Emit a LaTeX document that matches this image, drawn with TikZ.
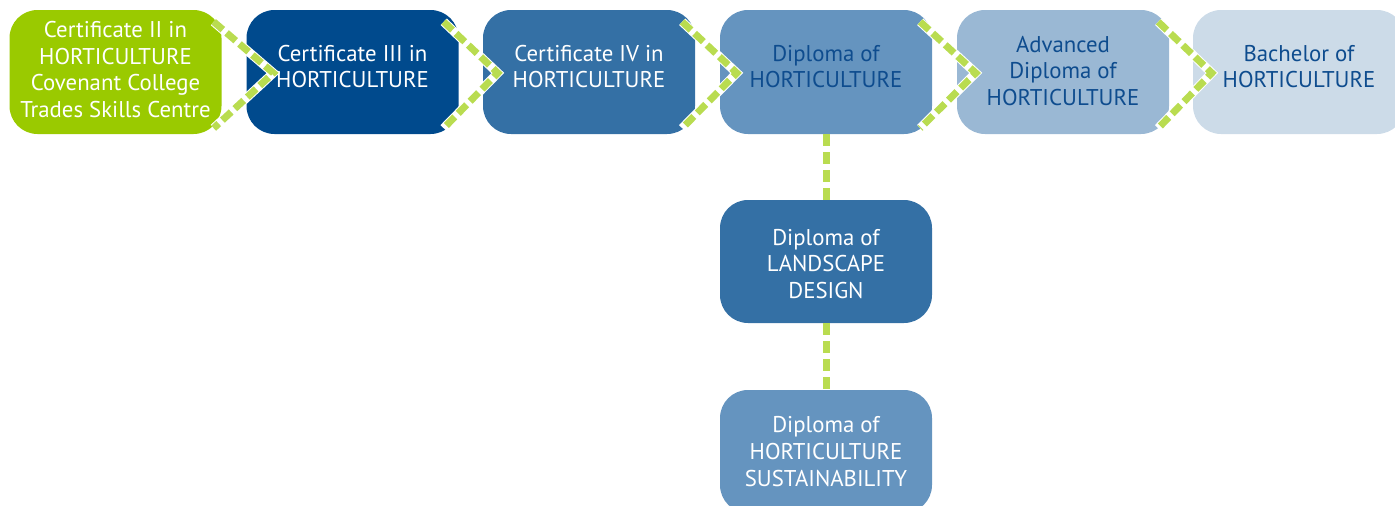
\documentclass[tikz,border=0pt]{standalone}
\usepackage{fontspec}
\setmainfont{PT Sans}
\usetikzlibrary{calc}
\definecolor{cgreen}{RGB}{154,202,0}
\definecolor{cdark}{RGB}{0,74,141}
\definecolor{cmid}{RGB}{52,112,165}
\definecolor{cfour}{RGB}{101,148,191}
\definecolor{cfive}{RGB}{154,184,212}
\definecolor{csix}{RGB}{204,219,232}
\definecolor{ctext}{RGB}{14,76,142}
\definecolor{cdash}{RGB}{185,220,80}
\tikzset{
  box/.style={rounded corners=28pt, minimum width=212pt, minimum height=124pt, inner sep=0pt, align=center, font=\fontsize{22.8}{26.6}\selectfont},
  chev/.style={line width=7pt, cdash, dash pattern=on 12pt off 5pt},
  chevbg/.style={line width=9pt, white},
  vdash/.style={line width=7pt, cdash, dash pattern=on 12pt off 6pt}
}
\begin{document}
\begin{tikzpicture}[x=1pt,y=-1pt]
\useasboundingbox (0,0) rectangle (1395,506);
\node[box, fill=cgreen, text=white, text depth=5pt] (b1) at (115.5,72) {Certificate II in\\HORTICULTURE\\Covenant College\\Trades Skills Centre};
\node[box, fill=cdark, text=white, text depth=11pt] (b2) at (352.5,72) {Certificate III in\\HORTICULTURE};
\node[box, fill=cmid, text=white, text depth=11pt] (b3) at (589,72) {Certificate IV in\\HORTICULTURE};
\node[box, fill=cfour, text=ctext, text depth=11pt] (b4) at (826,72) {Diploma of\\HORTICULTURE};
\node[box, fill=cfive, text=ctext, text depth=3pt] (b5) at (1063,72) {Advanced\\Diploma of\\HORTICULTURE};
\node[box, fill=csix, text=ctext, text depth=11pt] (b6) at (1299,72) {Bachelor of\\HORTICULTURE};
\node[box, fill=cmid, text=white, minimum height=123pt, text height=74pt] (l1) at (826,261.5) {Diploma of\\LANDSCAPE\\DESIGN};
\node[box, fill=cfour, text=white, minimum height=123pt] (l2) at (826,451.5) {Diploma of\\HORTICULTURE\\SUSTAINABILITY};
\foreach \a/\b/\s/\t in {b1/b2/-8/27, b2/b3/-15/15, b3/b4/-13/17, b4/b5/-12/19, b5/b6/-11/19}{
  \coordinate (p1) at ($(\a.north east)+(\s,12)$);
  \coordinate (p2) at ($(\b.west)+(\t,1)$);
  \coordinate (p3) at ($(\a.south east)+(\s,-6)$);
  \draw[chevbg] (p1) -- (p2) -- (p3);
  \draw[chev] (p1) -- (p2) -- (p3);
}
\draw[vdash] (b4.south) -- (l1.north);
\draw[vdash] (l1.south) -- (l2.north);
\end{tikzpicture}
\end{document}
